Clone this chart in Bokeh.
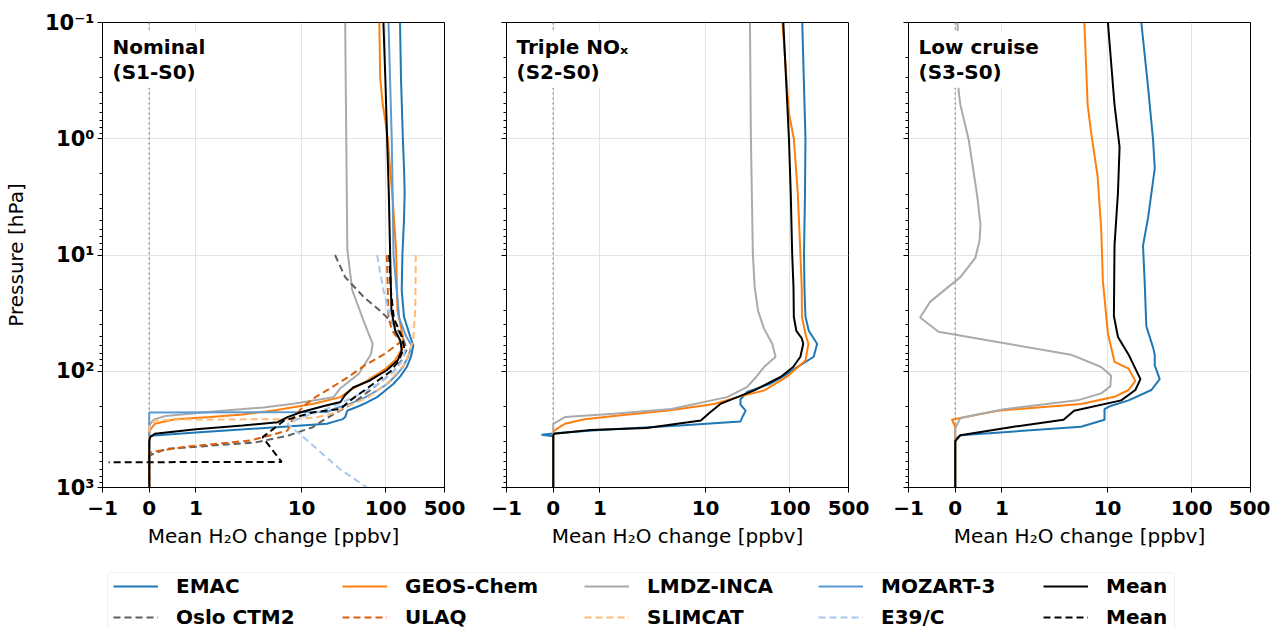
import numpy as np
from bokeh.plotting import figure
from bokeh.models import (Range1d, FixedTicker, Label, Legend, LegendItem,
                          BoxAnnotation, Span)
from bokeh.layouts import column, row
from bokeh.embed import file_html
from bokeh.resources import INLINE

# ------------------------------------------------------------------ data
X_TICKS = [-1, 0, 1, 10, 100, 500]
X_TICK_LABELS = ["\u22121", "0", "1", "10", "100", "500"]
Y_TICKS = [0.1, 1, 10, 100, 1000]
Y_TICK_LABELS = ["10\u207b\u00b9", "10\u2070", "10\u00b9", "10\u00b2", "10\u00b3"]
Y_MINOR = [k * 10.0 ** e for e in range(-1, 3) for k in range(2, 10)]
PANEL_TITLES = ["Nominal\n(S1-S0)", "Triple NO\u2093\n(S2-S0)", "Low cruise\n(S3-S0)"]
X_LABEL = "Mean H\u2082O change [ppbv]"
Y_LABEL = "Pressure [hPa]"

# Panel 1: Nominal (S1-S0)  -- pressure [hPa] and H2O change [ppbv]
NOM_EMAC_P = [0.1, 0.3, 1, 2, 3, 5, 10, 20, 34, 50, 60, 75, 92, 110, 128, 150, 167, 185, 197, 210, 218, 248, 258, 270, 283, 303, 336, 357, 365, 1000]
NOM_EMAC_V = [148, 152, 160, 166, 168, 165, 158, 155, 165, 195, 213, 200, 178, 150, 124, 95, 79, 60, 50, 40, 35, 33, 31, 25, 20, 5, 1, 0.1, 0, 0]
NOM_GEOS_P = [0.1, 0.3, 0.5, 0.7, 1, 2, 3, 9, 30, 50, 60, 80, 95, 121, 145, 167, 190, 218, 235, 248, 259, 283, 320, 340, 1000]
NOM_GEOS_V = [84, 86, 92, 99, 106, 114, 120, 133, 138, 160, 165, 130, 100, 60, 38, 29, 14, 4.7, 2, 1.3, 0.55, 0.12, 0.02, 0, 0]
NOM_LMDZ_P = [0.1, 1, 9, 20, 40, 58, 71, 105, 140, 167, 190, 205, 220, 243, 260, 285, 300, 1000]
NOM_LMDZ_V = [33, 34, 35, 40, 57, 70, 67, 48, 29, 24, 8, 3.5, 1.5, 0.35, 0.1, 0.02, 0, 0]
NOM_MOZ_P = [0.1, 1, 3, 10, 20, 35, 50, 60, 75, 92, 110, 128, 150, 170, 190, 205, 224, 226, 1000]
NOM_MOZ_V = [108, 118, 121, 124, 135, 145, 175, 203, 185, 160, 130, 105, 75, 55, 38, 27, 20, 0, 0]
NOM_MEAN_P = [0.1, 0.3, 1, 3, 10, 30, 45, 55, 66, 80, 98, 120, 138, 160, 184, 200, 225, 248, 274, 293, 316, 345, 369, 400, 1000]
NOM_MEAN_V = [94, 99, 104, 109, 113, 117, 130, 150, 155, 140, 103, 65, 41, 33, 29, 18, 9.8, 6.8, 5.2, 2, 1, 0.12, 0.017, 0, 0]
NOM_OSLO_P = [10, 15.5, 23, 30, 37.8, 45, 55, 65, 80, 100, 130, 160, 190, 230, 265, 303, 357, 410, 465, 531, 1000]
NOM_OSLO_V = [25, 33, 55, 85, 118, 142, 165, 178, 155, 125, 80, 55, 40, 25, 18, 13.6, 7, 2.8, 0.37, 0, 0]
NOM_ULAQ_P = [10, 20, 35, 45, 56, 70, 90, 112, 140, 165, 200, 250, 324, 394, 447, 495, 520, 1000]
NOM_ULAQ_V = [103, 106, 108, 120, 150, 100, 55, 36, 22, 15, 10.5, 8, 6.8, 2.5, 0.76, 0.05, 0, 0]
NOM_SLIM_P = [10, 28, 54, 86, 128, 170, 204, 230, 250, 259, 260, 265, 293, 1000]
NOM_SLIM_V = [228, 225, 213, 170, 103, 60, 32, 24, 15, 6.8, 0.65, 0.12, 0, 0]
NOM_E39_P = [10, 20, 34, 50, 65, 80, 100, 130, 170, 210, 250, 283, 400, 500, 700, 1000]
NOM_E39_V = [79, 94, 113, 140, 170, 160, 125, 80, 40, 20, 10, 6.8, 12, 17, 29, 60]
NOM_MEAND_P = [10, 20, 35, 50, 62, 80, 100, 138, 178, 211, 225, 265, 300, 369, 603, 606]
NOM_MEAND_V = [110, 115, 125, 155, 165, 145, 115, 62, 38, 29, 14, 6.2, 5, 3.45, 5.8, -0.87]

# Panel 2: Triple NOx (S2-S0)
TRI_EMAC_P = [0.1, 1, 3, 10, 20, 34, 45, 58, 75, 92, 110, 128, 151, 175, 194, 218, 240, 270, 293, 320, 340, 352, 362, 1000]
TRI_EMAC_V = [141, 154, 152, 148, 150, 154, 169, 212, 193, 123, 85, 59, 31, 26, 26, 30, 28, 26, 5, 1, 0.1, -0.25, 0, 0]
TRI_GEOS_P = [0.1, 0.6, 1, 3, 9.7, 19, 34, 48, 58, 81, 112, 146, 167, 191, 218, 239, 259, 283, 324, 340, 1000]
TRI_GEOS_V = [82, 98, 112, 125, 134, 139, 140, 154, 167, 154, 92, 50, 24, 12.7, 3.6, 1.45, 0.67, 0.25, 0.02, 0, 0]
TRI_LMDZ_P = [0.1, 1, 9.7, 19, 30, 43, 58, 75, 92, 112, 137, 167, 211, 232, 248, 283, 1000]
TRI_LMDZ_V = [33.7, 34.6, 36.5, 38.4, 42, 49.5, 62, 68, 49.5, 40, 31, 18, 3.9, 1.3, 0.25, 0, 0]
TRI_MEAN_P = [0.1, 1, 3, 9.7, 19, 34, 45, 52, 58, 75, 92, 112, 146, 191, 230, 265, 308, 320, 345, 355, 1000]
TRI_MEAN_V = [84, 98, 103, 107, 111, 112, 120, 139, 145, 134, 110, 78, 38, 15, 11, 8.8, 2, 0.8, 0.02, 0, 0]

# Panel 3: Low cruise (S3-S0)
LOW_EMAC_P = [0.1, 0.36, 1.03, 1.8, 4.8, 8.3, 16.7, 41, 62.6, 72, 89, 117, 145, 178, 198, 212, 261, 300, 355, 383, 1000]
LOW_EMAC_V = [25.2, 30.3, 34.8, 36.4, 30.3, 26.4, 27.6, 28.9, 34.8, 36.4, 36.4, 41.7, 33.2, 17.8, 11, 9.2, 9.2, 4.84, 0.11, 0, 0]
LOW_GEOS_P = [0.1, 0.51, 0.9, 2.07, 5.9, 16.7, 47.4, 83, 95, 121, 145, 166, 191, 219, 252, 261, 300, 1000]
LOW_GEOS_V = [5.3, 5.8, 6.4, 7.6, 8.4, 8.8, 10.1, 12.1, 17.8, 21.4, 17.8, 12.1, 4.84, 0.9, 0.11, -0.072, 0, 0]
LOW_LMDZ_P = [0.1, 0.39, 0.51, 1.03, 3.1, 5.5, 7.5, 10.6, 15.5, 25.3, 34.5, 45.7, 56, 72, 92, 109, 135, 155, 178, 212, 252, 310, 1000]
LOW_LMDZ_V = [0.05, 0.072, 0.11, 0.29, 0.47, 0.54, 0.52, 0.43, 0.11, -0.54, -0.75, -0.36, 0.9, 3.67, 8.4, 11, 10.8, 8.4, 4.4, 1.04, 0.11, 0, 0]
LOW_MEAN_P = [0.1, 0.51, 1.18, 2.9, 8.3, 33.5, 50.8, 72, 117, 145, 178, 219, 261, 300, 355, 398, 1000]
LOW_MEAN_V = [10.1, 12.1, 13.9, 13.3, 12.1, 11.9, 13.3, 17.8, 24.6, 21.4, 14.5, 4.0, 3.0, 1.25, 0.11, 0, 0]

# ------------------------------------------------------------------ styles
STYLE = {
    "EMAC": ("#1f77b4", "solid"),
    "GEOS-Chem": ("#ff7f0e", "solid"),
    "LMDZ-INCA": ("#aaaaaa", "solid"),
    "MOZART-3": ("#5b9bd5", "solid"),
    "Mean": ("#000000", "solid"),
    "Oslo CTM2": ("#5f5f5f", "7 4"),
    "ULAQ": ("#d95f0e", "7 4"),
    "SLIMCAT": ("#ffbb78", "7 4"),
    "E39/C": ("#a6c8ee", "7 4"),
    "Mean ": ("#000000", "7 4"),
}

PANELS = [
    [("EMAC", NOM_EMAC_P, NOM_EMAC_V), ("GEOS-Chem", NOM_GEOS_P, NOM_GEOS_V),
     ("LMDZ-INCA", NOM_LMDZ_P, NOM_LMDZ_V), ("MOZART-3", NOM_MOZ_P, NOM_MOZ_V),
     ("Oslo CTM2", NOM_OSLO_P, NOM_OSLO_V), ("ULAQ", NOM_ULAQ_P, NOM_ULAQ_V),
     ("SLIMCAT", NOM_SLIM_P, NOM_SLIM_V), ("E39/C", NOM_E39_P, NOM_E39_V),
     ("Mean ", NOM_MEAND_P, NOM_MEAND_V), ("Mean", NOM_MEAN_P, NOM_MEAN_V)],
    [("EMAC", TRI_EMAC_P, TRI_EMAC_V), ("GEOS-Chem", TRI_GEOS_P, TRI_GEOS_V),
     ("LMDZ-INCA", TRI_LMDZ_P, TRI_LMDZ_V), ("Mean", TRI_MEAN_P, TRI_MEAN_V)],
    [("EMAC", LOW_EMAC_P, LOW_EMAC_V), ("GEOS-Chem", LOW_GEOS_P, LOW_GEOS_V),
     ("LMDZ-INCA", LOW_LMDZ_P, LOW_LMDZ_V), ("Mean", LOW_MEAN_P, LOW_MEAN_V)],
]

FONT = "DejaVu Sans"


def symlog(x, linthresh=2.0, linscale=1.0, base=10.0):
    x = np.asarray(x, dtype=float)
    adj = linscale / (1.0 - 1.0 / base)
    a = np.abs(x)
    safe = np.where(a > linthresh, a, linthresh)
    logpart = np.sign(x) * linthresh * (adj + np.log(safe / linthresh) / np.log(base))
    return np.where(a <= linthresh, x * adj, logpart)


XMIN = float(symlog(-1))
XMAX = float(symlog(500))
XT = [float(v) for v in symlog(X_TICKS)]

BORDERS = [(94, 31), (31, 30), (30, 20)]
FRAME_W, FRAME_H = 342, 465
TOP, BOTTOM = 22, 62
PX_PER_DEC = FRAME_H / 4.0

figs = []
for i, series in enumerate(PANELS):
    bl, br = BORDERS[i]
    p = figure(frame_width=FRAME_W, frame_height=FRAME_H, y_axis_type="log",
               x_range=Range1d(XMIN, XMAX), y_range=Range1d(1000, 0.1),
               output_backend="svg", toolbar_location=None,
               min_border_left=bl, min_border_right=br,
               min_border_top=TOP, min_border_bottom=BOTTOM,
               background_fill_color="white", border_fill_color="white")
    p.outline_line_color = "black"
    p.outline_line_width = 1
    p.xaxis.ticker = FixedTicker(ticks=XT, minor_ticks=[])
    p.xaxis.major_label_overrides = {t: lab for t, lab in zip(XT, X_TICK_LABELS)}
    p.yaxis.ticker = FixedTicker(ticks=Y_TICKS, minor_ticks=Y_MINOR)
    if i == 0:
        p.yaxis.major_label_overrides = {t: lab for t, lab in zip(Y_TICKS, Y_TICK_LABELS)}
    else:
        p.yaxis.major_label_overrides = {t: "" for t in Y_TICKS}
    for ax in (p.xaxis, p.yaxis):
        ax.major_label_text_font = FONT
        ax.major_label_text_font_style = "bold"
        ax.major_label_text_font_size = "20px"
        ax.major_label_text_color = "black"
        ax.axis_label_text_font = FONT
        ax.axis_label_text_font_style = "normal"
        ax.axis_label_text_font_size = "20px"
        ax.axis_label_text_color = "black"
        ax.axis_line_color = "black"
        ax.major_tick_line_color = "black"
        ax.minor_tick_line_color = "black"
        ax.major_tick_in = 0
        ax.major_tick_out = 5
        ax.minor_tick_in = 0
        ax.minor_tick_out = 3
        ax.major_label_standoff = 3
    p.yaxis.major_label_text_font_size = "21px"
    p.xaxis.major_label_standoff = 8
    p.xaxis.axis_label = X_LABEL
    p.xaxis.axis_label_standoff = 6
    if i == 0:
        p.yaxis.axis_label = Y_LABEL
        p.yaxis.axis_label_standoff = 14
    p.xgrid.grid_line_color = "#e3e3e3"
    p.ygrid.grid_line_color = "#e3e3e3"
    p.xgrid.grid_line_width = 1
    p.ygrid.grid_line_width = 1

    zero = Span(location=0.0, dimension="height", line_color="#999999",
                line_dash="2 3", line_width=1.5, level="underlay")
    p.add_layout(zero)

    for name, pres, vals in series:
        color, dash = STYLE[name]
        p.line(x=symlog(vals), y=np.asarray(pres, dtype=float), line_color=color,
               line_dash=dash, line_width=2)

    title = Label(x=XMIN + 6.0 / FRAME_W * (XMAX - XMIN), y=0.1 * 10 ** (8.5 / PX_PER_DEC),
                  text=PANEL_TITLES[i], text_font=FONT, text_font_style="bold",
                  text_font_size="20px", text_color="black", text_align="left",
                  text_baseline="top", text_line_height=1.03,
                  background_fill_color="white", background_fill_alpha=1.0,
                  padding=4)
    p.add_layout(title)
    figs.append(p)

# ------------------------------------------------------------------ legend
TOTAL_W = sum(bl + FRAME_W + br for bl, br in BORDERS) + 8
LEG_H = 79
leg = figure(width=TOTAL_W, height=LEG_H, x_range=Range1d(0, TOTAL_W),
             y_range=Range1d(LEG_H, 0), min_border=0,
             x_axis_location=None, y_axis_location=None,
             output_backend="svg", toolbar_location=None,
             background_fill_color="white", border_fill_color="white")
leg.outline_line_color = None
leg.grid.visible = False

box = BoxAnnotation(left=107, right=1174, top=22, bottom=400, fill_color=None,
                    fill_alpha=0, line_color="#cccccc", line_width=1, border_radius=4)
leg.add_layout(box)

LEG_COLUMNS = [("EMAC", "Oslo CTM2"), ("GEOS-Chem", "ULAQ"), ("LMDZ-INCA", "SLIMCAT"),
               ("MOZART-3", "E39/C"), ("Mean", "Mean ")]
COL_X = [113, 342, 584, 818, 1043]
for (n1, n2), cx in zip(LEG_COLUMNS, COL_X):
    items = []
    for n in (n1, n2):
        color, dash = STYLE[n]
        r = leg.line(x=[np.nan, np.nan], y=[np.nan, np.nan], line_color=color,
                     line_dash=dash, line_width=2)
        items.append(LegendItem(label=n.strip(), renderers=[r]))
    lg = Legend(items=items, location=(cx, 0), orientation="vertical",
                border_line_color=None, background_fill_alpha=0, padding=0,
                margin=0, spacing=7, glyph_width=45, glyph_height=20,
                label_height=20, label_standoff=18, label_text_font=FONT,
                label_text_font_style="bold", label_text_font_size="20px",
                label_text_color="black")
    leg.add_layout(lg)

layout = column(row(*figs), leg)
open("out.html", "w").write(file_html(layout, INLINE))
